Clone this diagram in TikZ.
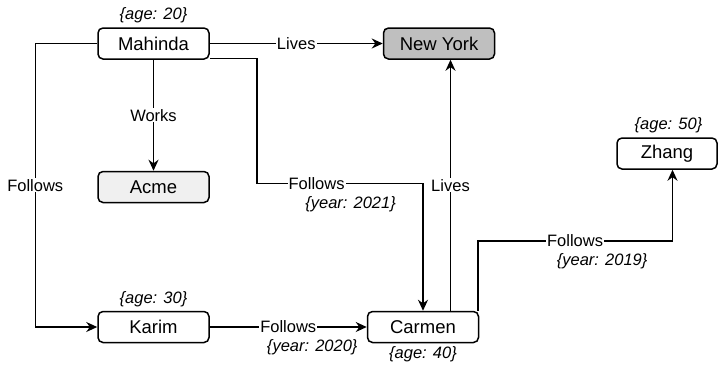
\documentclass[tikz,border=0pt]{standalone}
\usepackage{fontspec}
\setmainfont{Liberation Sans}
\usetikzlibrary{arrows.meta}
\usetikzlibrary{positioning}
\tikzset{
	>={Stealth[length=11pt,width=10pt]},
	entity/.style={
		rectangle,
		rounded corners=5pt,
		draw=black, line width=1.5pt,
		minimum width=111pt,
		minimum height=31pt,
		font=\fontsize{18.5}{20}\selectfont,
		text centered},
	link/.style={draw, line width=1.5pt, ->},
	rel/.style={fill=white, inner sep=1pt, font=\fontsize{16.5}{18}\selectfont},
	attr/.style={inner sep=0pt, font=\fontsize{16.5}{18}\selectfont\itshape},
}
\begin{document}
\begin{tikzpicture}[x=1pt,y=-1pt,node distance=173pt]
	\useasboundingbox (0,0) rectangle (720,365);
	\node[entity] (mahinda) at (153.5,43.5) {Mahinda};
	\node[entity, fill=black!25, right=of mahinda] (newyork) {New York};
	\node[entity, fill=black!6, below=111pt of mahinda] (acme) {Acme};
	\node[entity, below=251pt of mahinda] (karim) {Karim};
	\node[entity, right=157pt of karim] (carmen) {Carmen};
	\node[entity, minimum width=100pt] (zhang) at (667,153.5) {Zhang};

	% properties
	\node[attr] (agemahinda) at ([yshift=12.5pt]mahinda.north) {\{age: 20\}};
	\node[attr] (agekarim) at ([yshift=12pt]karim.north) {\{age: 30\}};
	\node[attr] (agecarmen) at ([yshift=-11pt]carmen.south) {\{age: 40\}};
	\node[attr] (agezhang) at ([xshift=1.5pt,yshift=12pt]zhang.north) {\{age: 50\}};

	% relations
	\draw[link] (mahinda) -- node[rel] (livesmah) {Lives} (newyork);
	\draw[link] (mahinda) -- node[rel] (works) {Works} (acme);
	\draw[link] (mahinda.west) -- ++(-62,0) |- node[rel, pos=.25] (folkarim) {Follows} (karim.west);
	\draw[link] ([yshift=1.5pt]mahinda.south east) -- ++(47,0) -- ++(0,125) -| node[rel, pos=.18] (folcarmen) {Follows} (carmen.north);
	\draw[link] (karim) -- node[rel] (folkc) {Follows} (carmen);
	\coordinate (livesfoot) at ([xshift=27.5pt]carmen.north);
	\draw[link] (livesfoot) -- node[rel] (livescar) {Lives} (livesfoot |- newyork.south);
	\coordinate (zhangfoot) at ([xshift=5.5pt]zhang.south);
	\draw[link] ([xshift=-1.5pt]carmen.north east) -- ++(0,-70) -| node[rel, pos=.25] (folzhang) {Follows} (zhangfoot);

	\node[attr] (year21) at ([xshift=34pt,yshift=-21pt]folcarmen) {\{year: 2021\}};
	\node[attr] (year20) at ([xshift=24pt,yshift=-20pt]folkc) {\{year: 2020\}};
	\node[attr] (year19) at ([xshift=27pt,yshift=-20pt]folzhang) {\{year: 2019\}};
\end{tikzpicture}
\end{document}
